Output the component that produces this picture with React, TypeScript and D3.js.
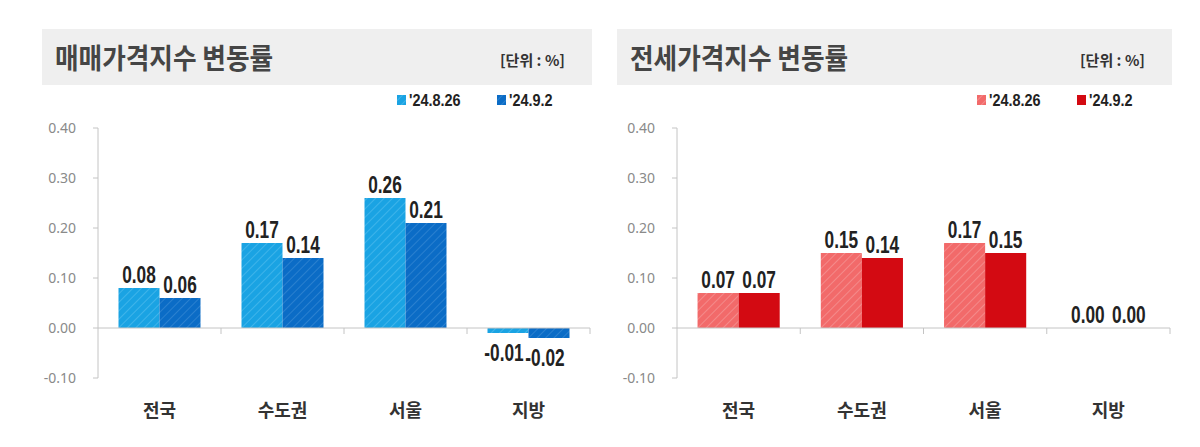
import React from 'react';
import * as d3 from 'd3';

const categories = ['전국', '수도권', '서울', '지방'];
const seriesNames = ["'24.8.26", "'24.9.2"];
const saleWeek1 = [0.08, 0.17, 0.26, -0.01];
const saleWeek2 = [0.06, 0.14, 0.21, -0.02];
const jeonseWeek1 = [0.07, 0.15, 0.17, 0.0];
const jeonseWeek2 = [0.07, 0.14, 0.15, 0.0];
const yTicks = [-0.1, 0.0, 0.1, 0.2, 0.3, 0.4];

const W = 1200;
const H = 447;
const VALUE_FONT = '"Liberation Sans", Arial, sans-serif';
const KR_FONT = '"Noto Sans CJK KR", "Noto Sans", sans-serif';

type PanelProps = {
  id: string;
  title: string;
  left: number;       // left edge of the title band
  right: number;      // right edge of the title band
  axisX: number;      // y axis position
  endX: number;       // end of zero line
  values: number[][];
  colors: string[];
  stripes: string[];
  hatched: boolean[];
};

// condensed bold label, the source uses a narrow face
const Narrow = ({ x, y, size, children, anchor = 'middle', sx = 0.72 }: any) => (
  <text transform={`translate(${x},${y}) scale(${sx},1)`} textAnchor={anchor} fontFamily={VALUE_FONT}
    fontWeight={700} fontSize={size} fill="#222">{children}</text>
);

const Panel = ({ id, title, left, right, axisX, endX, values, colors, stripes, hatched }: PanelProps) => {
  const y = d3.scaleLinear().domain([-0.1, 0.4]).range([378, 128]);
  const x = d3.scaleBand<string>().domain(categories).range([axisX, endX]).paddingInner(0).paddingOuter(0);
  const inner = d3.scaleBand<number>().domain([0, 1]).range([0, x.bandwidth()]).paddingInner(0).paddingOuter(0.5);
  const fmt = (v: number) => d3.format('.2f')(v).replace('\u2212', '-');

  const legendX = right - 195;

  return (
    <g>
      <defs>
        {colors.map((c, i) => (
          <pattern key={i} id={`${id}-hatch-${i}`} patternUnits="userSpaceOnUse" width={6} height={6}
            patternTransform="rotate(45)">
            <rect width={6} height={6} fill={c} />
            <line x1={0} y1={0} x2={0} y2={6} stroke={stripes[i]} strokeWidth={2} />
          </pattern>
        ))}
      </defs>

      {/* title band */}
      <rect x={left} y={29} width={right - left} height={56} fill="#efefef" />
      <text transform={`translate(${left + 13},69) scale(0.95,1.05)`} fontFamily={KR_FONT} fontWeight={700}
        fontSize={27} fill="#454545">{title}</text>
      <text x={right - 27} y={66} textAnchor="end" fontFamily={KR_FONT} fontWeight={700} fontSize={15} fill="#333">[단위 : %]</text>

      {/* legend */}
      {seriesNames.map((s, i) => (
        <g key={s} transform={`translate(${legendX + i * 100},100)`}>
          <rect x={0} y={-5} width={9} height={10} fill={hatched[i] ? `url(#${id}-hatch-${i})` : colors[i]} />
          <Narrow x={12} y={6} size={17} anchor="start" sx={0.85}>{s}</Narrow>
        </g>
      ))}

      {/* y axis */}
      <line x1={axisX} x2={axisX} y1={y(0.4)} y2={y(-0.1)} stroke="#c4c4c4" strokeWidth={1} />
      {yTicks.map(t => (
        <g key={t}>
          <line x1={axisX - 5} x2={axisX} y1={y(t)} y2={y(t)} stroke="#c4c4c4" />
          <text x={axisX - 22} y={y(t) + 5} textAnchor="end" fontFamily='"Noto Sans", sans-serif'
            fontSize={14} fill="#8a8a8a">{fmt(t)}</text>
        </g>
      ))}

      {/* bars */}
      {categories.map((c, ci) => (
        <g key={c} transform={`translate(${x(c)},0)`}>
          {values.map((vals, si) => {
            const v = vals[ci];
            const top = y(Math.max(0, v));
            const h = Math.abs(y(v) - y(0));
            const bx = inner(si)!;
            const bw = inner.bandwidth();
            return (
              <g key={si}>
                {h > 0 && (
                  <rect x={bx} y={top} width={bw} height={h}
                    fill={hatched[si] ? `url(#${id}-hatch-${si})` : colors[si]} />
                )}
                <Narrow x={bx + bw / 2 - (v < 0 ? 4 : 0)} y={v < 0 ? y(v) + 28 : top - 5} size={24}>
                  {fmt(v)}
                </Narrow>
              </g>
            );
          })}
        </g>
      ))}

      {/* zero line and category ticks */}
      <line x1={axisX} x2={endX} y1={y(0)} y2={y(0)} stroke="#c4c4c4" strokeWidth={1} />
      {categories.map((c, i) => {
        const tx = axisX + (i + 1) * x.step();
        return <line key={c} x1={tx} x2={tx} y1={y(0)} y2={y(0) + 6} stroke="#c4c4c4" />;
      })}
      {categories.map(c => (
        <text key={c} x={x(c)! + x.bandwidth() / 2} y={417} textAnchor="middle" fontFamily={KR_FONT}
          fontWeight={700} fontSize={18} fill="#333">{c}</text>
      ))}
    </g>
  );
};

export default function App() {
  return (
    <svg width={W} height={H} style={{ position: 'absolute', left: 0, top: 0, background: '#fff' }}>
      <rect width={W} height={H} fill="#fff" />
      <Panel id="sale" title="매매가격지수 변동률" left={42} right={592} axisX={98} endX={590}
        values={[saleWeek1, saleWeek2]} colors={['#1aa3e3', '#0b6cc6']} stripes={['#3fb4ea', '#2a80cf']}
        hatched={[true, true]} />
      <Panel id="jeonse" title="전세가격지수 변동률" left={617} right={1172} axisX={677} endX={1170}
        values={[jeonseWeek1, jeonseWeek2]} colors={['#f26a6a', '#d30a12']} stripes={['#f48a8a', '#d30a12']}
        hatched={[true, false]} />
    </svg>
  );
}
